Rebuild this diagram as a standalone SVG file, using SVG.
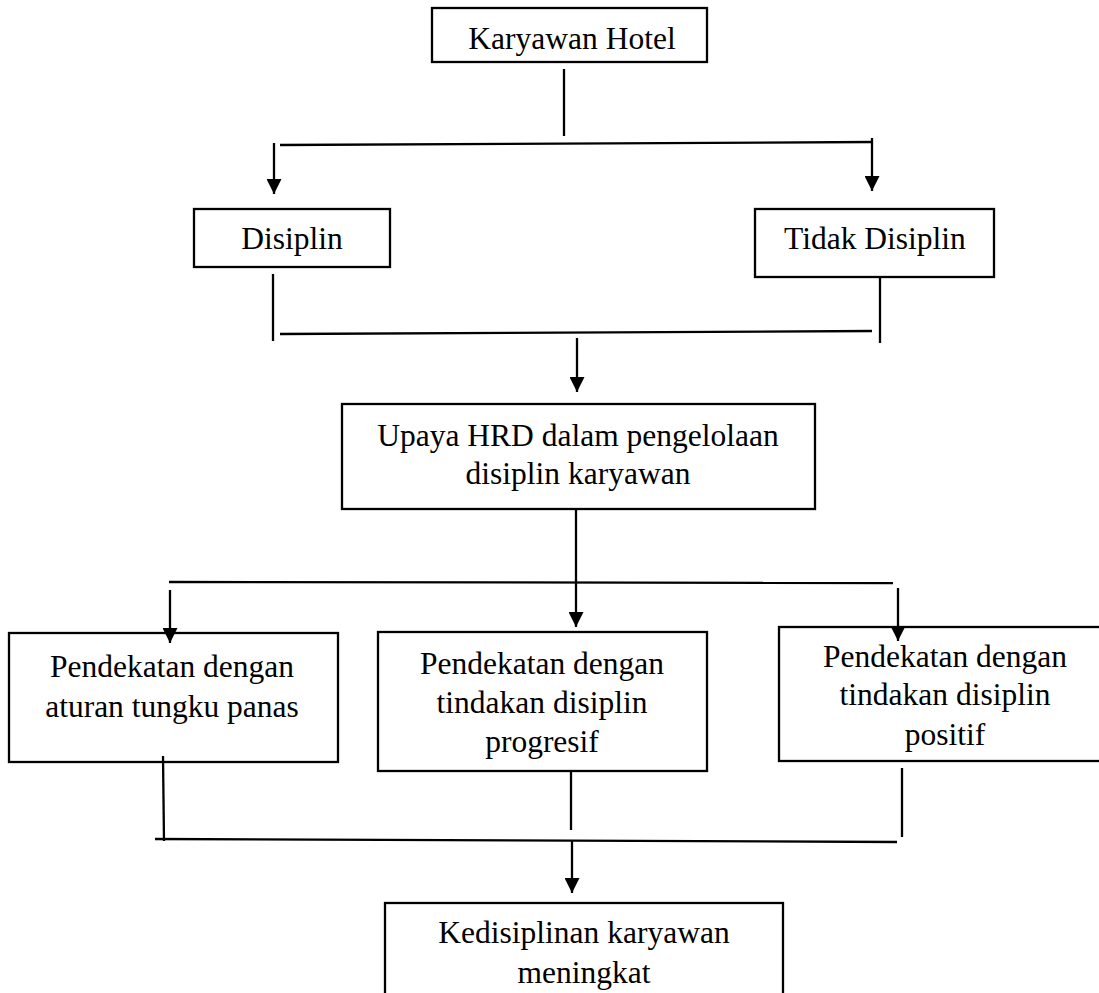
<svg xmlns="http://www.w3.org/2000/svg" width="1099" height="993" viewBox="0 0 1099 993">
<style>
.box{fill:#fff;stroke:#000;stroke-width:2.3}
.t{font-family:"Liberation Serif","Times New Roman",serif;font-size:31.5px;fill:#000;text-anchor:middle}
.c{stroke:#000;stroke-width:2.3;fill:none}
.a{stroke:#000;stroke-width:2.3;fill:none;marker-end:url(#ah)}
</style>
<defs>
<marker id="ah" viewBox="0 0 10 10" refX="10" refY="5" markerWidth="15" markerHeight="15" markerUnits="userSpaceOnUse" orient="auto">
<path d="M0,0 L10,5 L0,10 z" fill="#000"/>
</marker>
</defs>
<rect width="1099" height="993" fill="#fff"/>
<g id="karyawan-hotel">
<rect class="box" x="432" y="8" width="275" height="54"/>
<text class="t" x="572" y="49">Karyawan Hotel</text>
</g>
<g id="disiplin">
<rect class="box" x="194" y="209" width="196" height="58"/>
<text class="t" x="292" y="249">Disiplin</text>
</g>
<g id="tidak-disiplin">
<rect class="box" x="755" y="209" width="239" height="68"/>
<text class="t" x="875" y="249">Tidak Disiplin</text>
</g>
<g id="upaya-hrd">
<rect class="box" x="342" y="404" width="473" height="105"/>
<text class="t" x="578" y="446">Upaya HRD dalam pengelolaan</text>
<text class="t" x="578" y="484">disiplin karyawan</text>
</g>
<g id="tungku-panas">
<rect class="box" x="9" y="633" width="329" height="129"/>
<text class="t" x="172" y="677">Pendekatan dengan</text>
<text class="t" x="172" y="717">aturan tungku panas</text>
</g>
<g id="progresif">
<rect class="box" x="378" y="632" width="329" height="139"/>
<text class="t" x="542" y="674">Pendekatan dengan</text>
<text class="t" x="542" y="713">tindakan disiplin</text>
<text class="t" x="542" y="752">progresif</text>
</g>
<g id="positif">
<rect class="box" x="779" y="627" width="332" height="134"/>
<text class="t" x="945" y="667">Pendekatan dengan</text>
<text class="t" x="945" y="705">tindakan disiplin</text>
<text class="t" x="945" y="745">positif</text>
</g>
<g id="kedisiplinan">
<rect class="box" x="385" y="903" width="398" height="110"/>
<text class="t" x="584" y="943">Kedisiplinan karyawan</text>
<text class="t" x="584" y="983">meningkat</text>
</g>
<g id="connectors">
<line class="c" x1="564" y1="69" x2="564" y2="136"/>
<line class="c" x1="280" y1="145" x2="872" y2="142"/>
<line class="a" x1="274" y1="143" x2="274" y2="194"/>
<line class="a" x1="872" y1="138" x2="872" y2="191"/>
<line class="c" x1="273" y1="274" x2="273" y2="341"/>
<line class="c" x1="880" y1="276" x2="880" y2="343"/>
<line class="c" x1="280" y1="334" x2="872" y2="331"/>
<line class="a" x1="577" y1="338" x2="577" y2="392"/>
<line class="c" x1="169" y1="582" x2="893" y2="583"/>
<line class="a" x1="576" y1="509" x2="576" y2="627"/>
<line class="a" x1="170" y1="590" x2="170" y2="643"/>
<line class="a" x1="898" y1="588" x2="898" y2="641"/>
<line class="c" x1="163" y1="756" x2="164" y2="841"/>
<line class="c" x1="571" y1="771" x2="571" y2="830"/>
<line class="c" x1="902" y1="768" x2="902" y2="837"/>
<line class="c" x1="155" y1="839" x2="897" y2="842"/>
<line class="a" x1="572" y1="841" x2="572" y2="893"/>
</g>
</svg>
